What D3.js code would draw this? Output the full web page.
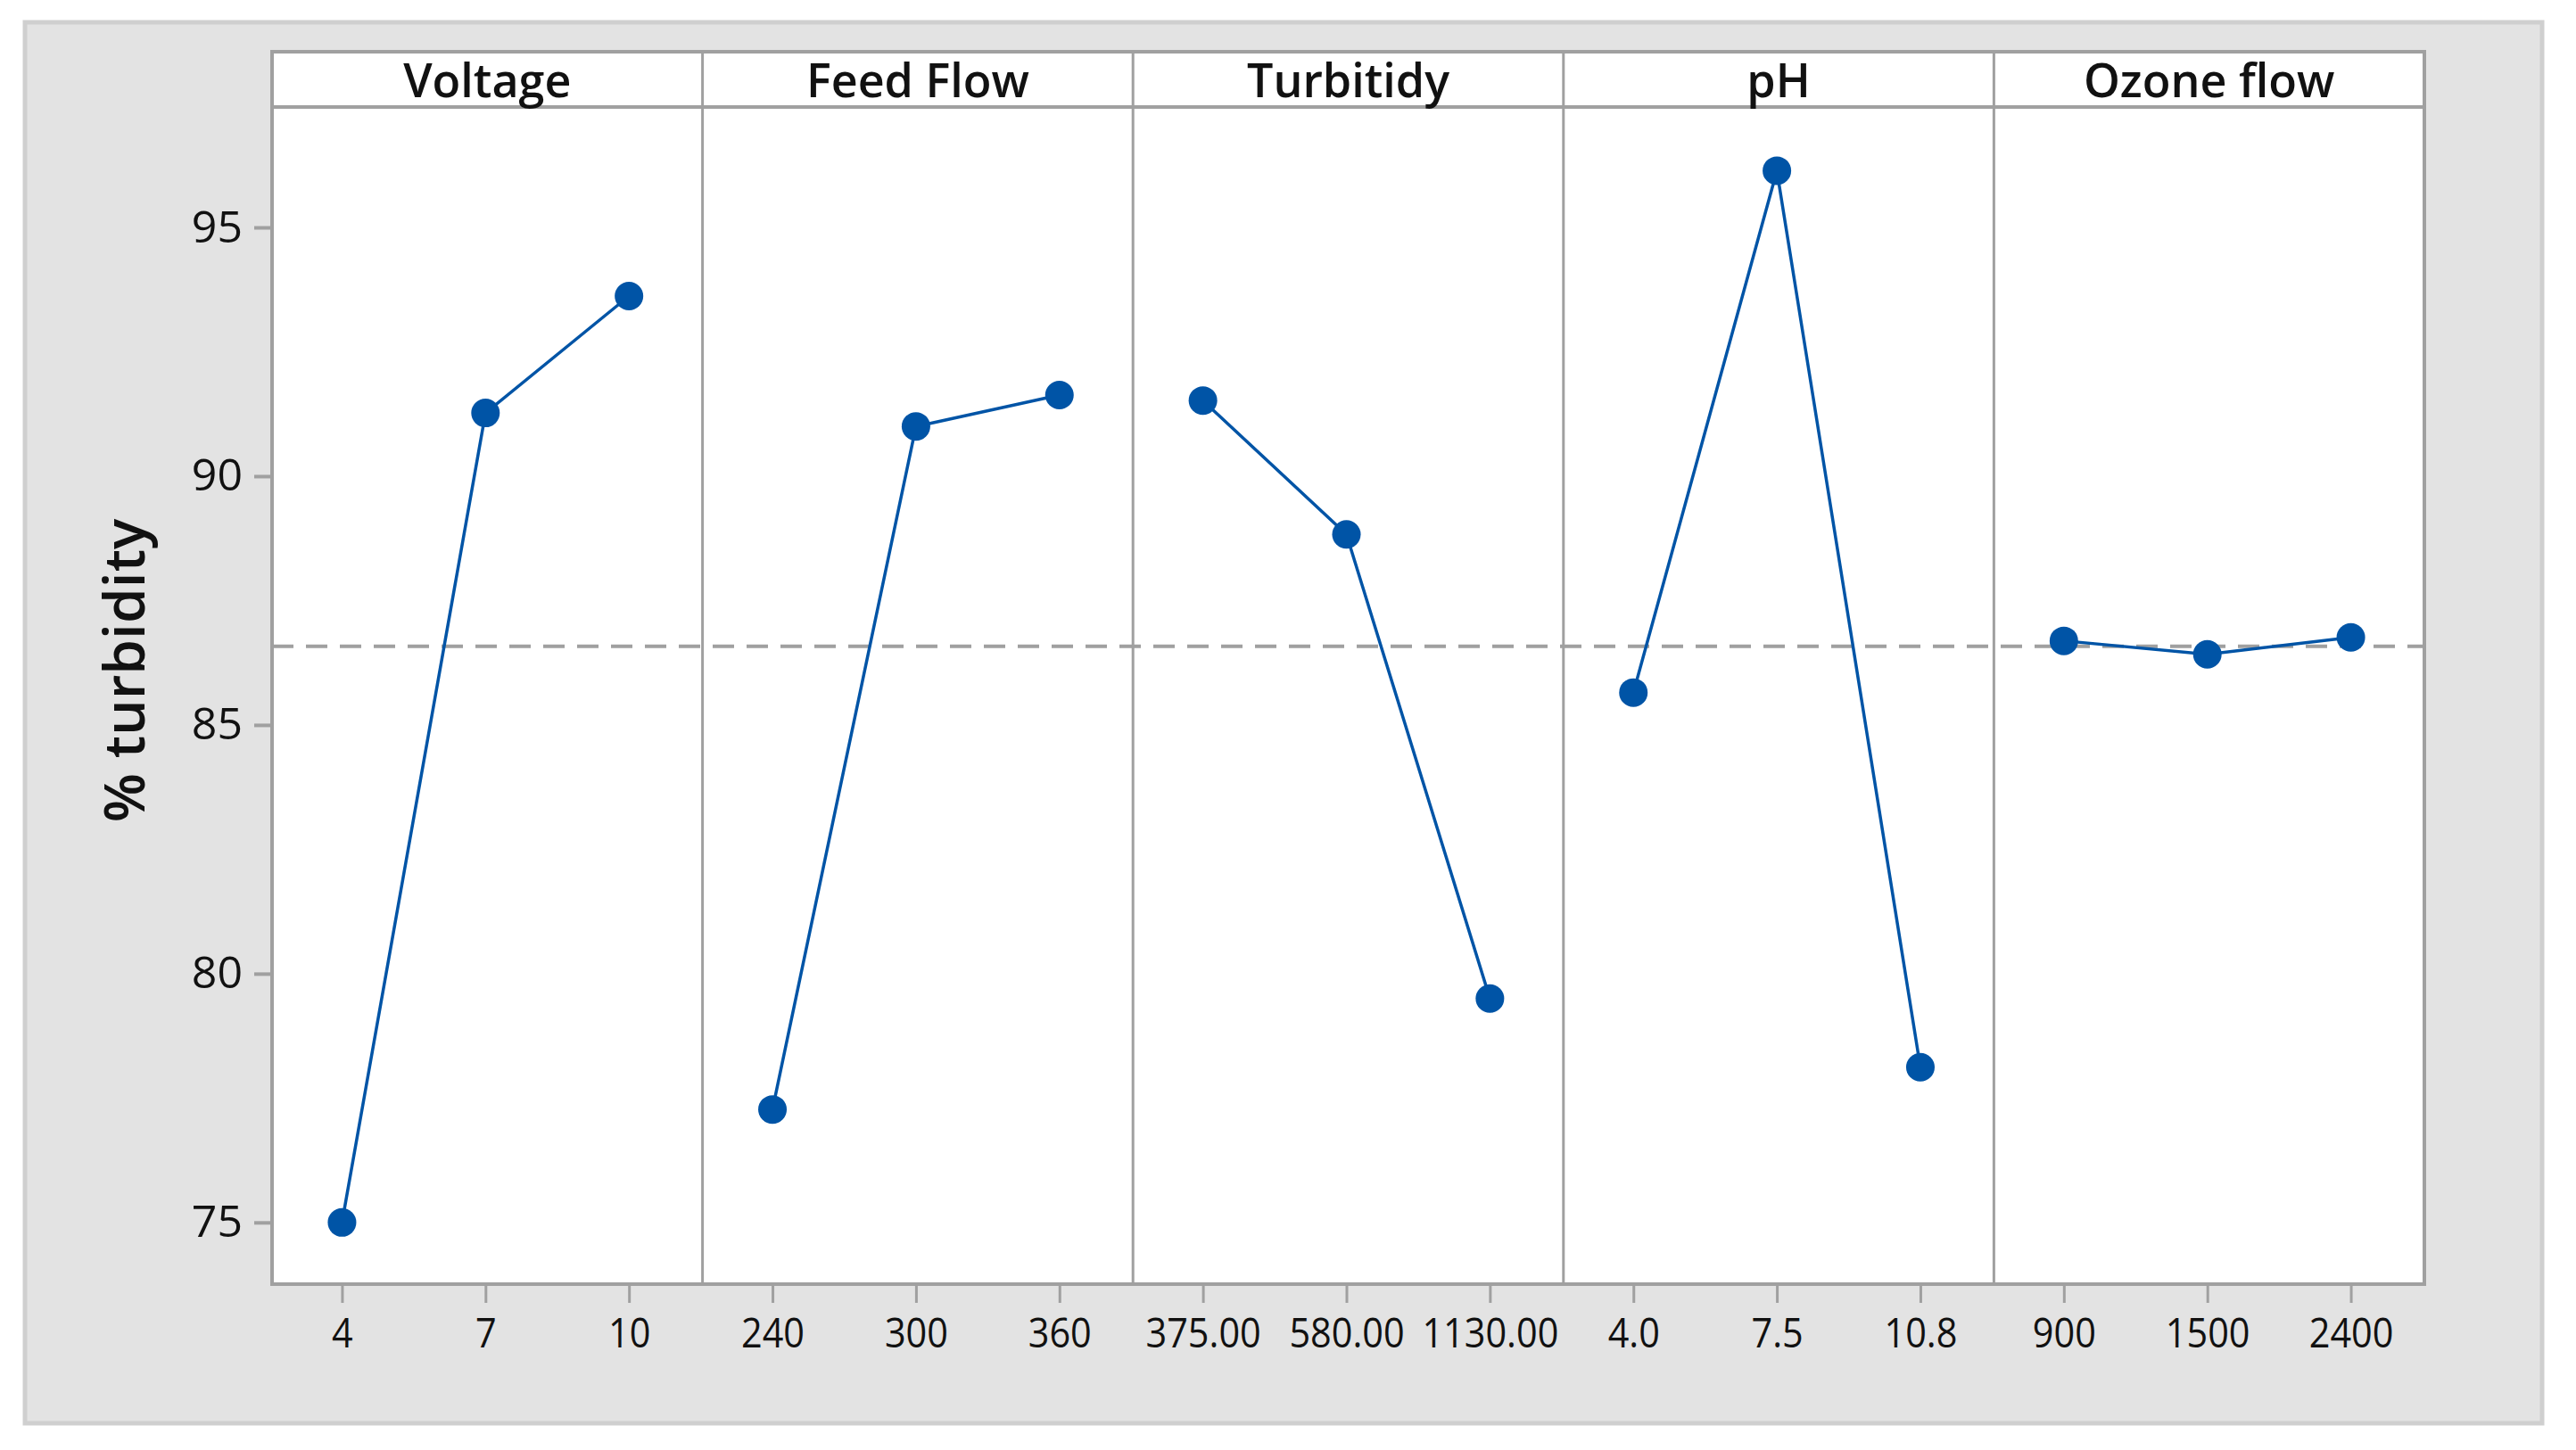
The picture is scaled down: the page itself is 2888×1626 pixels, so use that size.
<!DOCTYPE html>
<html>
<head>
<meta charset="utf-8">
<script src="https://cdn.jsdelivr.net/npm/d3@7"></script>
<style>
  html, body { margin: 0; padding: 0; background: #ffffff; }
  svg { display: block; }
  text { font-family: "Open Sans", "Noto Sans", sans-serif; fill: #111; }
</style>
</head>
<body>
<svg id="chart" width="2888" height="1626"></svg>
<script>
// ---------------- data ----------------
const factors = ["Voltage", "Feed Flow", "Turbitidy", "pH", "Ozone flow"];

const levelsVoltage = ["4", "7", "10"];
const meansVoltage = [75.0, 91.27, 93.62];

const levelsFeedFlow = ["240", "300", "360"];
const meansFeedFlow = [77.27, 91.0, 91.63];

const levelsTurbidity = ["375.00", "580.00", "1130.00"];
const meansTurbidity = [91.52, 88.83, 79.50];

const levelsPH = ["4.0", "7.5", "10.8"];
const meansPH = [85.65, 96.14, 78.12];

const levelsOzone = ["900", "1500", "2400"];
const meansOzone = [86.69, 86.42, 86.76];

const grandMean = 86.58;
const yTicks = [75, 80, 85, 90, 95];
const yLabel = "% turbidity";

const panels = [
  { name: factors[0], levels: levelsVoltage, values: meansVoltage },
  { name: factors[1], levels: levelsFeedFlow, values: meansFeedFlow },
  { name: factors[2], levels: levelsTurbidity, values: meansTurbidity },
  { name: factors[3], levels: levelsPH, values: meansPH },
  { name: factors[4], levels: levelsOzone, values: meansOzone }
];

// ---------------- layout ----------------
const plotL = 305, plotR = 2718, plotT = 120, plotB = 1440, headT = 58;
const gridCol = "#a0a0a0";
const blue = "#0054a6";

const svg = d3.select("#chart");

// outer gray frame
svg.append("rect")
  .attr("x", 28).attr("y", 25).attr("width", 2822).attr("height", 1571)
  .attr("fill", "#e3e3e3").attr("stroke", "#cfcfcf").attr("stroke-width", 5);

// scales
const y = d3.scaleLinear().domain([73.76, 97.42]).range([plotB, plotT]);
const xPanel = d3.scaleBand().domain(factors).range([plotL, plotR]).padding(0);

// plot & header backgrounds
svg.append("rect")
  .attr("x", plotL).attr("y", headT).attr("width", plotR - plotL).attr("height", plotB - headT)
  .attr("fill", "#ffffff");

// grand mean dashed line
svg.append("line")
  .attr("x1", plotL).attr("x2", plotR)
  .attr("y1", y(grandMean)).attr("y2", y(grandMean))
  .attr("stroke", gridCol).attr("stroke-width", 4)
  .attr("stroke-dasharray", "24,14");

// panel dividers
factors.slice(1).forEach(f => {
  const xx = xPanel(f);
  svg.append("line")
    .attr("x1", xx).attr("x2", xx).attr("y1", headT).attr("y2", plotB)
    .attr("stroke", gridCol).attr("stroke-width", 3);
});

// header box & plot border
svg.append("rect")
  .attr("x", plotL).attr("y", headT).attr("width", plotR - plotL).attr("height", plotT - headT)
  .attr("fill", "none").attr("stroke", gridCol).attr("stroke-width", 4);
svg.append("rect")
  .attr("x", plotL).attr("y", plotT).attr("width", plotR - plotL).attr("height", plotB - plotT)
  .attr("fill", "none").attr("stroke", gridCol).attr("stroke-width", 4);

// y axis
const yAxis = d3.axisLeft(y).tickValues(yTicks).tickSize(18).tickPadding(13).tickFormat(d3.format("d"));
const gy = svg.append("g").attr("transform", `translate(${plotL - 2},0)`).call(yAxis);
gy.select(".domain").remove();
gy.selectAll(".tick line").attr("stroke", gridCol).attr("stroke-width", 4);
gy.selectAll(".tick text")
  .attr("font-family", "'Open Sans', sans-serif")
  .attr("font-size", 50).attr("font-weight", 500).attr("fill", "#111");

// y label
svg.append("text")
  .attr("transform", "translate(162,752) rotate(-90)")
  .attr("text-anchor", "middle")
  .attr("font-size", 64)
  .attr("font-weight", 600)
  .text(yLabel);

// panels
panels.forEach(p => {
  const x0 = xPanel(p.name);
  const bw = xPanel.bandwidth();
  const xs = d3.scalePoint().domain(p.levels).range([0, bw]).padding(0.5);

  // header text
  svg.append("text")
    .attr("x", x0 + bw / 2).attr("y", 109)
    .attr("text-anchor", "middle")
    .attr("font-size", 52)
    .attr("font-weight", 600)
    .text(p.name);

  // x axis
  const xAxis = d3.axisBottom(xs).tickSize(20).tickPadding(17);
  const gx = svg.append("g").attr("transform", `translate(${x0 - 2},${plotB + 1})`).call(xAxis);
  gx.select(".domain").remove();
  gx.selectAll(".tick line").attr("stroke", gridCol).attr("stroke-width", 3);
  gx.selectAll(".tick text")
    .attr("font-family", "'Open Sans', sans-serif")
    .attr("font-size", 46).attr("font-weight", 500).attr("fill", "#111")
    .attr("transform", "scale(0.9,1)");

  const data = p.levels.map((l, i) => ({ l, v: p.values[i] }));
  const line = d3.line().x(d => x0 - 2 + xs(d.l)).y(d => y(d.v));
  svg.append("path")
    .datum(data)
    .attr("d", line)
    .attr("fill", "none")
    .attr("stroke", blue)
    .attr("stroke-width", 3.5);

  svg.selectAll(null)
    .data(data)
    .enter().append("circle")
    .attr("cx", d => x0 - 2 + xs(d.l))
    .attr("cy", d => y(d.v))
    .attr("r", 16)
    .attr("fill", blue);
});
</script>
</body>
</html>
